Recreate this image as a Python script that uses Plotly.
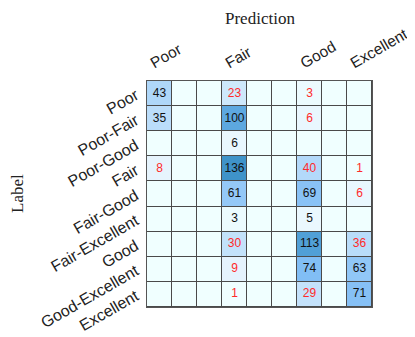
import plotly.graph_objects as go

labels = ["Poor", "Poor-Fair", "Poor-Good", "Fair", "Fair-Good",
          "Fair-Excellent", "Good", "Good-Excellent", "Excellent"]
pred_ticks = ["Poor", "", "", "Fair", "", "", "Good", "", "Excellent"]

counts = [
    [43, 0, 0, 23, 0, 0, 3, 0, 0],
    [35, 0, 0, 100, 0, 0, 6, 0, 0],
    [0, 0, 0, 6, 0, 0, 0, 0, 0],
    [8, 0, 0, 136, 0, 0, 40, 0, 1],
    [0, 0, 0, 61, 0, 0, 69, 0, 6],
    [0, 0, 0, 3, 0, 0, 5, 0, 0],
    [0, 0, 0, 30, 0, 0, 113, 0, 36],
    [0, 0, 0, 9, 0, 0, 74, 0, 63],
    [0, 0, 0, 1, 0, 0, 29, 0, 71],
]

grade_idx = {"Poor": 0, "Fair": 3, "Good": 6, "Excellent": 8}


def label_range(lab):
    parts = lab.split("-")
    return grade_idx[parts[0]], grade_idx[parts[-1]]


n = len(labels)
tx, ty, tt, tc = [], [], [], []
for i in range(n):
    lo, hi = label_range(labels[i])
    for j in range(n):
        v = counts[i][j]
        if v == 0:
            continue
        tx.append(j)
        ty.append(i)
        tt.append(str(v))
        tc.append("#111111" if lo <= j <= hi else "#ff2a2a")

colorscale = [
    [0.0, "#f0ffff"],
    [0.06, "#e6f4fd"],
    [0.27, "#b8dcfa"],
    [0.55, "#80bdf5"],
    [0.75, "#5aa6de"],
    [1.0, "#3f93c9"],
]

fig = go.Figure()
fig.add_trace(go.Heatmap(
    z=counts, x=list(range(n)), y=list(range(n)),
    colorscale=colorscale, showscale=False, xgap=1, ygap=1,
    hoverinfo="skip",
))
fig.add_trace(go.Scatter(
    x=tx, y=ty, text=tt, mode="text",
    textfont=dict(family="Liberation Sans, Arial", size=12, color=tc),
    hoverinfo="skip", showlegend=False,
))

# page body has an 8px margin, so the figure sits at (8, 8)
serif = "Liberation Serif, DejaVu Serif"
fig.update_layout(
    width=407, height=329,
    margin=dict(l=139, r=43, t=73, b=30),
    paper_bgcolor="white", plot_bgcolor="#4a4a4a",
    showlegend=False,
    font=dict(family="Liberation Sans, Arial", size=16, color="#222"),
    annotations=[
        dict(text="Prediction", xref="paper", yref="paper", x=0.5, y=1.0,
             yshift=63, showarrow=False, font=dict(family=serif, size=17),
             yanchor="middle", xanchor="center"),
        dict(text="Label", xref="paper", yref="paper", x=0.0, y=0.5,
             xshift=-130, showarrow=False, textangle=-90,
             xanchor="center", yanchor="middle",
             font=dict(family=serif, size=17)),
    ],
)
fig.update_xaxes(
    side="top", tickvals=list(range(n)), ticktext=pred_ticks, tickangle=-30,
    range=[-0.5, n - 0.5], showgrid=False, zeroline=False, ticks="",
    ticklabelstandoff=4, ticklabelshift=-9, automargin=False,
    tickfont=dict(size=15.5),
    showline=True, linecolor="#555", mirror=True,
)
fig.update_yaxes(
    tickvals=list(range(n)), ticktext=labels, tickangle=-30,
    range=[n - 0.5, -0.5], showgrid=False, zeroline=False, ticks="",
    ticklabelstandoff=7, automargin=False,
    showline=True, linecolor="#555", mirror=True,
)

fig.write_html("out.html")
